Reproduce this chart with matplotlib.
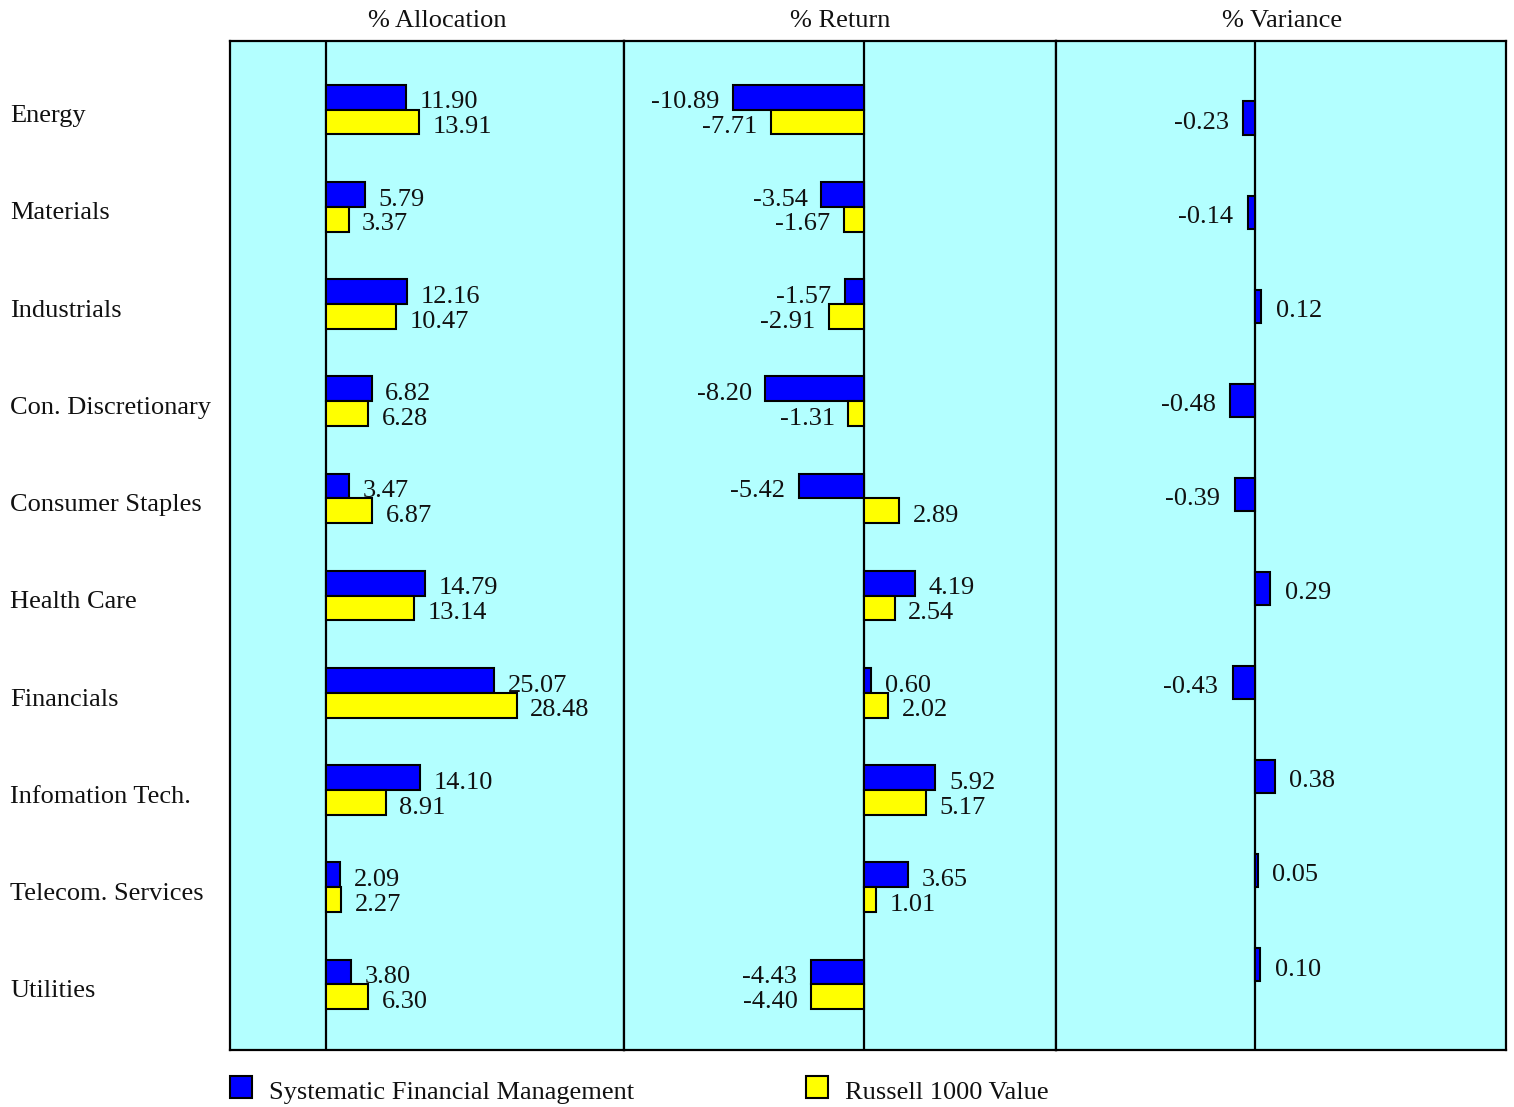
import matplotlib
matplotlib.use("Agg")
import matplotlib.pyplot as plt
from matplotlib.patches import Rectangle

categories = ["Energy", "Materials", "Industrials", "Con. Discretionary", "Consumer Staples",
              "Health Care", "Financials", "Infomation Tech.", "Telecom. Services", "Utilities"]
alloc_sfm = [11.90, 5.79, 12.16, 6.82, 3.47, 14.79, 25.07, 14.10, 2.09, 3.80]
alloc_r1000 = [13.91, 3.37, 10.47, 6.28, 6.87, 13.14, 28.48, 8.91, 2.27, 6.30]
ret_sfm = [-10.89, -3.54, -1.57, -8.20, -5.42, 4.19, 0.60, 5.92, 3.65, -4.43]
ret_r1000 = [-7.71, -1.67, -2.91, -1.31, 2.89, 2.54, 2.02, 5.17, 1.01, -4.40]
variance = [-0.23, -0.14, 0.12, -0.48, -0.39, 0.29, -0.43, 0.38, 0.05, 0.10]
series_names = ["Systematic Financial Management", "Russell 1000 Value"]

BLUE = "#0000FF"
YELLOW = "#FFFF00"
BG = "#B3FFFF"
FONT = "Liberation Serif"
FS = 19
TXT = "#111111"

W, H = 1514, 1107
fig = plt.figure(figsize=(W / 100, H / 100), dpi=100)
plt.rcParams['font.family'] = [FONT, 'DejaVu Serif']


def fx(px):
    return px / W


def fy(py):
    return 1 - py / H


top, bot = 41, 1050
panels = [(230, 624, (-14.33, 44.48), (9.675, -0.705)),
          (624, 1056, (-19.92, 15.93), (9.675, -0.705)),
          (1056, 1506, (-3.83, 4.83), (9.909, -0.8186))]
axes = []
for x0, x1, xl, yl in panels:
    ax = fig.add_axes([fx(x0), fy(bot), fx(x1 - x0), (bot - top) / H])
    ax.set_facecolor(BG)
    ax.set_xlim(*xl)
    ax.set_ylim(*yl)
    ax.set_xticks([])
    ax.set_yticks([])
    for s in ax.spines.values():
        s.set_linewidth(1.6)
        s.set_color("black")
    ax.axvline(0, color="black", lw=1.6, zorder=1)
    axes.append(ax)

bh = 0.255
ypos = list(range(len(categories)))
lab_off = 0.115


def pair_panel(ax, a, b, gap_units):
    ax.barh([y - bh / 2 for y in ypos], a, height=bh, color=BLUE, edgecolor="black", lw=1.5, zorder=2)
    ax.barh([y + bh / 2 for y in ypos], b, height=bh, color=YELLOW, edgecolor="black", lw=1.5, zorder=2)
    for y, va, vb in zip(ypos, a, b):
        for v, yy in ((va, y - bh / 2), (vb, y + bh / 2)):
            if v >= 0:
                ax.text(v + gap_units, yy + lab_off, f"{v:.2f}", ha="left", va="baseline",
                        fontsize=FS, color=TXT, zorder=3)
            else:
                ax.text(v - gap_units, yy + lab_off, f"{v:.2f}", ha="right", va="baseline",
                        fontsize=FS, color=TXT, zorder=3)


pair_panel(axes[0], alloc_sfm, alloc_r1000, 13.5 / 6.7)
pair_panel(axes[1], ret_sfm, ret_r1000, 13.5 / 12.03)

vh = 0.351
ax = axes[2]
ax.barh(ypos, variance, height=vh, color=BLUE, edgecolor="black", lw=1.5, zorder=2)
for y, v in zip(ypos, variance):
    g = 14.5 / 52
    if v >= 0:
        ax.text(v + g, y + 0.117, f"{v:.2f}", ha="left", va="baseline", fontsize=FS, color=TXT)
    else:
        ax.text(v - g, y + 0.117, f"{v:.2f}", ha="right", va="baseline", fontsize=FS, color=TXT)

# titles
for xc, t in ((437, "% Allocation"), (840, "% Return"), (1282, "% Variance")):
    fig.text(fx(xc), fy(27), t, ha="center", va="baseline", fontsize=FS, color=TXT)

# category labels
for y, c in zip(ypos, categories):
    py = 109.5 + y * 97.25 + 12.5
    fig.text(fx(10), fy(py), c, ha="left", va="baseline", fontsize=FS, color=TXT)

# legend
for (sx, tx), col, name in (((230, 269), BLUE, series_names[0]), ((806, 845), YELLOW, series_names[1])):
    fig.patches.append(Rectangle((fx(sx), fy(1098)), fx(22), 22 / H, transform=fig.transFigure,
                                 facecolor=col, edgecolor="black", lw=1.5))
    fig.text(fx(tx), fy(1099), name, ha="left", va="baseline", fontsize=FS, color=TXT)

fig.savefig("out.png", dpi=100, facecolor="white")
